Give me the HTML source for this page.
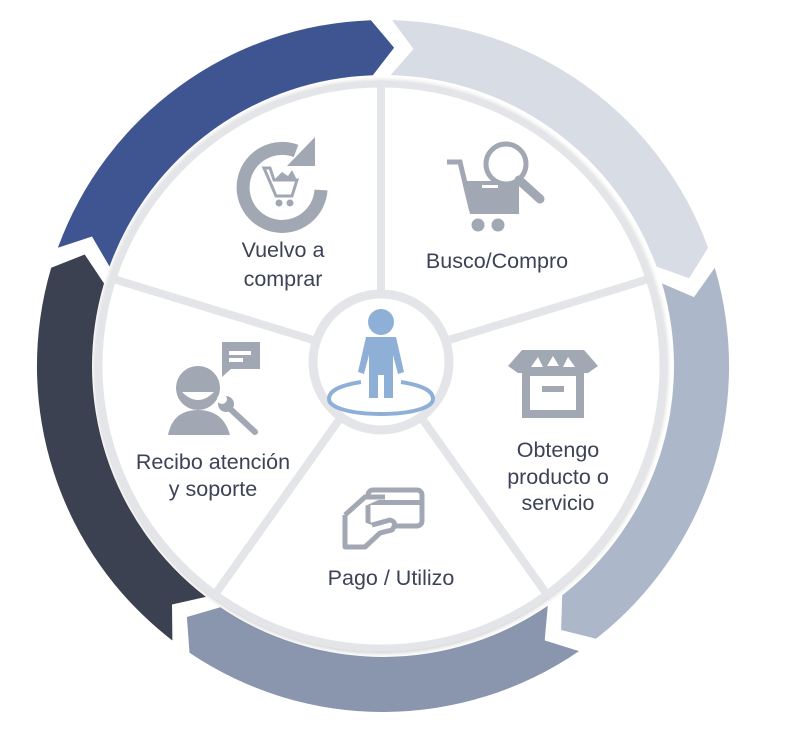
<!DOCTYPE html>
<html><head><meta charset="utf-8"><style>
html,body{margin:0;padding:0;background:#fff;width:791px;height:735px;overflow:hidden}
svg{display:block}
text{font-family:"Liberation Sans",sans-serif;font-size:21.5px;fill:#3c4356;text-anchor:middle}
</style></head><body>
<svg id="s" width="791" height="735" viewBox="0 0 791 735" xmlns="http://www.w3.org/2000/svg">
<defs>
<filter id="sh" x="-20%" y="-20%" width="140%" height="140%"><feGaussianBlur in="SourceAlpha" stdDeviation="3"/><feOffset dx="0" dy="1"/><feComponentTransfer><feFuncA type="linear" slope="0.25"/></feComponentTransfer><feMerge><feMergeNode/><feMergeNode in="SourceGraphic"/></feMerge></filter>
</defs>
<g id="ring"></g>
<circle cx="381" cy="366" r="282" fill="#fff" stroke="#e4e5e8" stroke-width="7" filter="url(#sh)"/>
<g stroke="#e4e5e8" stroke-width="8" id="spokes"></g>
<circle cx="381" cy="362" r="68" fill="#fff" stroke="#e4e5e8" stroke-width="9"/>
<!-- center person -->
<g fill="#8fb0d6">
<circle cx="381" cy="322" r="13"/>
<path d="M366 337 L396 337 L404 372 L398 374 L393 355 L393 398 L384 398 L384 375 L378 375 L378 398 L369 398 L369 355 L364 374 L358 372 Z"/>
</g>
<path d="M361 382 C336 386 329 392 329 399 C329 408 352 414 381 414 C410 414 433 408 433 399 C433 392 426 386 401 382" fill="none" stroke="#8fb0d6" stroke-width="4"/>
<g fill="#a2a8b3" stroke="none">
<!-- refresh -->
<path d="M296 151 A39 39 0 1 0 321 190" fill="none" stroke="#a2a8b3" stroke-width="13"/>
<path d="M315 137 L315 166 L287 166 Z"/>
<path d="M264 168 L270 168 L274 180 L297 180 L292 196 L276 196 Z" fill="none" stroke="#a2a8b3" stroke-width="3"/>
<path d="M274 180 L282 172 L288 176 L292 170 L297 180 Z"/>
<circle cx="279" cy="203" r="3.5"/><circle cx="290" cy="203" r="3.5"/>
<!-- busco cart -->
<path d="M447 162 L460 162 L471 208 L518 208" fill="none" stroke="#a2a8b3" stroke-width="5"/>
<path d="M462 181 L519 181 L519 214 L470 214 Z"/>
<circle cx="478" cy="225" r="6.5"/><circle cx="498" cy="225" r="6.5"/>
<circle cx="506" cy="164" r="20" fill="#fff" stroke="#a2a8b3" stroke-width="5"/>
<path d="M519 180 L540 199" stroke="#a2a8b3" stroke-width="9" stroke-linecap="round"/>
<rect x="482" y="185" width="16" height="3" fill="#fff"/>
<!-- box -->
<path d="M508 366 L522 350 L584 350 L598 366 L588 373 L518 373 Z"/>
<rect x="526" y="372" width="54" height="42" fill="none" stroke="#a2a8b3" stroke-width="8"/>
<rect x="542" y="386" width="22" height="6"/>
<path d="M531 367 L538 357 L543 367 Z M547 366 L553 356 L559 366 Z M563 367 L568 357 L575 367 Z" fill="#fff"/>
<!-- support -->
<circle cx="198" cy="388" r="22"/>
<path d="M182 392 Q198 408 214 392 Z" fill="#fff"/>
<path d="M168 435 Q173 410 198 410 Q223 410 230 435 Z"/>
<rect x="222" y="342" width="38" height="27"/>
<path d="M222 365 L222 377 L232 368 Z"/>
<rect x="229" y="351" width="22" height="4" fill="#fff"/><rect x="229" y="358" width="14" height="4" fill="#fff"/>
<path d="M226 405 L255 432" stroke="#a2a8b3" stroke-width="6" stroke-linecap="round"/>
<circle cx="226" cy="404" r="8"/><circle cx="222" cy="399" r="5" fill="#fff"/>
<!-- card -->
<rect x="368" y="490" width="54" height="36" rx="5" fill="none" stroke="#a2a8b3" stroke-width="5"/>
<rect x="370" y="500" width="50" height="5"/>
<path d="M345 515 L365 497 L385 497 M345 515 L345 547 L365 547 L380 533 L392 530 Q398 522 390 520 L372 525" fill="#fff" stroke="#a2a8b3" stroke-width="5" stroke-linejoin="round"/>
</g>
<text x="283" y="257">Vuelvo a</text>
<text x="283" y="286">comprar</text>
<text x="497" y="268">Busco/Compro</text>
<text x="558" y="457">Obtengo</text>
<text x="558" y="484">producto o</text>
<text x="558" y="510">servicio</text>
<text x="391" y="585">Pago / Utilizo</text>
<text x="213" y="469">Recibo atención</text>
<text x="213" y="496">y soporte</text>
</svg>
<script>
(function(){
var cx=383,cy=366,R=346,r=291,rm=318.5,d=4,gap=3.5;
function p(a,rad){a=a*Math.PI/180;return (cx+rad*Math.sin(a)).toFixed(1)+" "+(cy-rad*Math.cos(a)).toFixed(1);}
var segs=[[-70,-2,"#3f5592"],[1.5,70,"#d8dce5"],[73.5,142,"#adb7ca"],[145.5,214,"#8a96ae"],[217.5,286.5,"#3b4150"]];
var g=document.getElementById("ring"),h="";
segs.forEach(function(s){var a0=s[0],a1=s[1];
h+='<path fill="'+s[2]+'" d="M'+p(a0,R)+' A'+R+' '+R+' 0 0 1 '+p(a1,R)+' L'+p(a1+d,rm)+' L'+p(a1,r)+' A'+r+' '+r+' 0 0 0 '+p(a0,r)+' L'+p(a0+d,rm)+' Z"/>';});
g.innerHTML=h;
var sp=document.getElementById("spokes"),h2="";
for(var i=0;i<5;i++){var a=i*72*Math.PI/180;
h2+='<line x1="'+(381+70*Math.sin(a))+'" y1="'+(362-70*Math.cos(a))+'" x2="'+(381+282*Math.sin(a))+'" y2="'+(366-282*Math.cos(a))+'"/>';}
sp.innerHTML=h2;
})();
</script>
</body></html>
